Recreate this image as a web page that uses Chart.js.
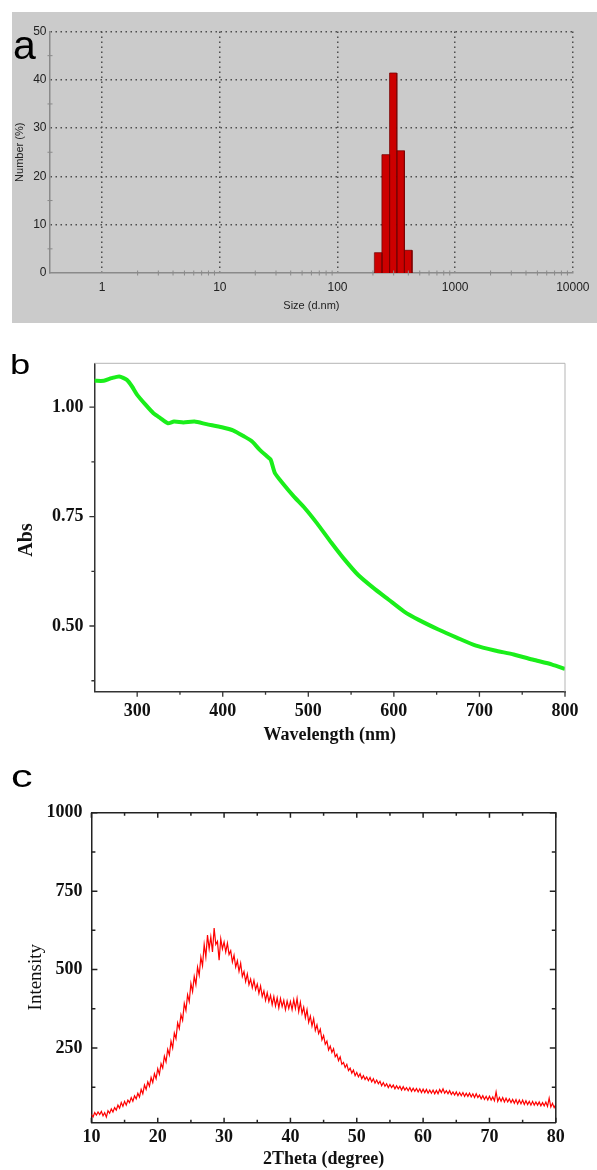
<!DOCTYPE html>
<html><head><meta charset="utf-8">
<script src="https://cdn.jsdelivr.net/npm/chart.js@4.4.1/dist/chart.umd.min.js"></script>
<style>
html,body{margin:0;padding:0;background:#fff;}
body{width:597px;height:1170px;position:relative;overflow:hidden;}
.panel{position:absolute;}
.panel canvas{display:block;}
.letter{position:absolute;font-family:"Liberation Sans",Arial,sans-serif;line-height:1;color:#000;transform-origin:left top;white-space:nowrap;}
</style></head><body>
<div class="panel" style="left:12px;top:12px;width:585px;height:311px;background:#cbcbcb;"><canvas id="ca" width="585" height="311" style="width:585px;height:311px"></canvas></div>
<div class="panel" style="left:0;top:340px;width:597px;height:410px;"><canvas id="cb" width="597" height="410" style="width:597px;height:410px"></canvas></div>
<div class="panel" style="left:0;top:790px;width:597px;height:380px;"><canvas id="cc" width="597" height="380" style="width:597px;height:380px"></canvas></div>
<div class="letter" style="left:13px;top:25px;font-size:41px;">a</div>
<div class="letter" style="left:10px;top:351px;font-size:28px;transform:scaleX(1.3)">b</div>
<div class="letter" style="left:11px;top:760px;font-size:32px;transform:scaleX(1.35)">c</div>
<script>
// ---------- Panel a : DLS size distribution ----------
const sizeBinEdges = [205.8, 238.5, 276.9, 319.0, 370.4, 430.0];
const numberPercent = [4.2, 24.5, 41.4, 25.3, 4.7];
const sizeTicks = [1, 10, 100, 1000, 10000];
const sizeMinorTicks = [2,3,4,5,6,7,8,9,20,30,40,50,60,70,80,90,200,300,400,500,600,700,800,900,2000,3000,4000,5000,6000,7000,8000,9000];
const numberTicks = [0, 10, 20, 30, 40, 50];
const numberMinorTicks = [5, 15, 25, 35, 45];

// ---------- Panel b : UV-Vis ----------
const wavelength = [250,261,270,279,288,294,300,310,319,327,336,343,354,367,381,399,412,425,434,443,452,456,461,470,483,496,510,527,541,558,576,594,612,629,652,674,696,718,740,763,785,800];
const absorbance = [1.060,1.060,1.066,1.070,1.062,1.047,1.028,1.005,0.986,0.975,0.963,0.967,0.965,0.967,0.961,0.954,0.947,0.933,0.922,0.903,0.887,0.880,0.849,0.826,0.796,0.769,0.735,0.690,0.655,0.617,0.587,0.560,0.533,0.514,0.492,0.473,0.455,0.444,0.435,0.423,0.412,0.402];
const wavelengthTicks = [300, 400, 500, 600, 700, 800];
const wavelengthMinorTicks = [350, 450, 550, 650, 750];
const absTicks = [0.50, 0.75, 1.00];
const absMinorTicks = [0.375, 0.625, 0.875];

// ---------- Panel c : XRD ----------
const twoThetaStart = 10, twoThetaStep = 0.25;
const intensity = [
38,30,44,36, 46,38,48,34, 44,30,50,42, 56,46,60,52, 68,58,76,64,
80,68,84,76, 92,80,98,88, 106,94,118,104, 132,118,142,128, 156,140,168,152,
184,166,200,186, 224,206,246,228, 272,250,298,280, 330,312,356,338, 392,370,420,398,
456,430,478,452, 508,482,540,512, 580,540,610,566, 604,556,632,580, 590,530,598,566,
588,556,584,548, 560,524,546,508, 528,494,520,478, 494,462,486,452, 470,442,466,436,
454,424,448,414, 432,402,426,398, 418,388,414,384, 410,378,408,382, 402,372,400,376,
398,372,404,376, 408,366,396,360, 380,346,372,332, 352,320,344,306, 324,296,310,276,
290,262,272,244, 256,236,248,222, 230,210,222,198, 204,188,198,178, 186,170,180,162,
172,158,168,152, 162,150,158,146, 156,142,152,138, 148,136,144,130, 140,128,136,124,
134,124,132,120, 130,120,128,116, 127,116,124,114, 124,112,122,112, 121,110,120,108,
119,108,118,106, 116,106,116,104, 115,104,118,108, 120,106,114,104, 114,102,110,100,
110,98,108,98, 108,96,106,96, 106,94,104,92, 104,92,100,88, 98,86,96,84,
96,84,94,82, 110,80,92,80, 92,78,90,78, 88,76,86,74, 86,72,84,72,
84,70,82,70, 80,68,80,68, 78,68,78,66, 76,66,78,64, 90,62,74,60,
70];
const twoTheta = intensity.map((_, i) => twoThetaStart + i * twoThetaStep);
const twoThetaTicks = [10, 20, 30, 40, 50, 60, 70, 80];
const twoThetaMinorTicks = [15, 25, 35, 45, 55, 65, 75];
const intensityTicks = [250, 500, 750, 1000];
const intensityMinorTicks = [125, 375, 625, 875];

// ---------- helper plugin: frame + tick marks ----------
const axisDecor = {
  id: 'axisDecor',
  afterDraw(chart, args, o) {
    const {ctx, chartArea: a, scales} = chart;
    ctx.save();
    if (o.frame) {
      ctx.strokeStyle = o.frame.color; ctx.lineWidth = o.frame.width;
      ctx.beginPath();
      ctx.moveTo(a.left, a.top); ctx.lineTo(a.right, a.top); ctx.lineTo(a.right, a.bottom);
      ctx.stroke();
    }
    for (const m of (o.marks || [])) {
      const sc = scales[m.scale];
      ctx.strokeStyle = m.color; ctx.lineWidth = m.width;
      ctx.beginPath();
      for (const v of m.values) {
        const p = sc.getPixelForValue(v);
        for (const e of m.edges) {
          const base = {bottom: a.bottom, top: a.top, left: a.left, right: a.right}[e];
          const inward = (e === 'bottom' || e === 'right') ? -1 : 1;
          let s0, s1;
          if (m.dir === 'in') { s0 = 0; s1 = inward * m.len; }
          else if (m.dir === 'out') { s0 = 0; s1 = -inward * m.len; }
          else { s0 = -m.len / 2; s1 = m.len / 2; }
          if (e === 'bottom' || e === 'top') { ctx.moveTo(p, base + s0); ctx.lineTo(p, base + s1); }
          else { ctx.moveTo(base + s0, p); ctx.lineTo(base + s1, p); }
        }
      }
      ctx.stroke();
    }
    ctx.restore();
  }
};
Chart.register(axisDecor);

const setTicks = arr => s => { s.ticks = arr.map(v => ({value: v})); };
const common = {responsive: false, animation: false, events: [], maintainAspectRatio: false};

// ---------- Chart a ----------
const sansA = {family: '"Liberation Sans", Arial, sans-serif', size: 12};
const sansTitleA = {family: '"Liberation Sans", Arial, sans-serif', size: 11};
const gridA = '#4d4d4d';
new Chart(document.getElementById('ca'), {
  type: 'scatter',
  data: {
    datasets: numberPercent.map((h, i) => ({
      data: [
        {x: sizeBinEdges[i], y: 0}, {x: sizeBinEdges[i], y: h},
        {x: sizeBinEdges[i + 1], y: h}, {x: sizeBinEdges[i + 1], y: 0}
      ],
      showLine: true, fill: 'origin', backgroundColor: '#cc0000',
      borderColor: '#7a0000', borderWidth: 0.8, pointRadius: 0, tension: 0
    }))
  },
  options: Object.assign({}, common, {
    layout: {padding: {left: 0, top: 19.5, right: 20, bottom: 0}},
    plugins: {
      legend: {display: false}, tooltip: {enabled: false},
      axisDecor: {marks: [
        {scale: 'x', values: sizeMinorTicks, edges: ['bottom'], dir: 'both', len: 5, color: '#8a8a8a', width: 1},
        {scale: 'y', values: numberMinorTicks, edges: ['left'], dir: 'both', len: 5, color: '#8a8a8a', width: 1}
      ]}
    },
    scales: {
      x: {
        type: 'logarithmic', min: 0.36, max: 10000,
        afterBuildTicks: setTicks(sizeTicks),
        afterFit: s => { s.height = 50; },
        ticks: {autoSkip: false, maxRotation: 0, padding: 7.5, color: '#222', font: sansA, callback: v => String(v)},
        grid: {drawTicks: false, color: gridA, lineWidth: 1.5},
        border: {display: true, color: '#8a8a8a', width: 1.5, dash: [1.5, 3.5]},
        title: {display: true, text: 'Size (d.nm)', color: '#222', font: sansTitleA, padding: {top: 0, bottom: 10.4}}
      },
      y: {
        min: 0, max: 50,
        afterBuildTicks: setTicks(numberTicks),
        afterFit: s => { s.width = 38; },
        ticks: {padding: 3.5, color: '#222', font: sansA},
        grid: {drawTicks: false, lineWidth: 1.5,
               color: c => (c.tick && c.tick.value === 0) ? 'rgba(0,0,0,0)' : gridA},
        border: {display: true, color: '#8a8a8a', width: 1.5, dash: [1.5, 3.5]},
        title: {display: true, text: 'Number (%)', color: '#222', font: sansTitleA, padding: {top: 1.4, bottom: 0}}
      }
    }
  })
});

// ---------- Chart b ----------
const serifB = {family: '"Liberation Serif", "Times New Roman", serif', size: 18, weight: 'bold'};
new Chart(document.getElementById('cb'), {
  type: 'scatter',
  data: {datasets: [{
    data: wavelength.map((x, i) => ({x, y: absorbance[i]})),
    showLine: true, borderColor: '#1aee1a', borderWidth: 4, pointRadius: 0, tension: 0.2
  }]},
  options: Object.assign({}, common, {
    layout: {padding: {left: 0, top: 23.3, right: 32, bottom: 0}},
    plugins: {
      legend: {display: false}, tooltip: {enabled: false},
      axisDecor: {
        frame: {color: '#b5b5b5', width: 1},
        marks: [
          {scale: 'x', values: wavelengthTicks, edges: ['bottom'], dir: 'out', len: 5, color: '#333', width: 1.3},
          {scale: 'x', values: wavelengthMinorTicks, edges: ['bottom'], dir: 'out', len: 3, color: '#333', width: 1.3},
          {scale: 'y', values: absTicks, edges: ['left'], dir: 'out', len: 5, color: '#333', width: 1.3},
          {scale: 'y', values: absMinorTicks, edges: ['left'], dir: 'out', len: 3, color: '#333', width: 1.3}
        ]
      }
    },
    scales: {
      x: {
        type: 'linear', min: 250, max: 800,
        afterBuildTicks: setTicks(wavelengthTicks),
        afterFit: s => { s.height = 58.3; },
        ticks: {autoSkip: false, maxRotation: 0, padding: 9, color: '#111', font: serifB},
        grid: {drawOnChartArea: false, drawTicks: false},
        border: {display: true, color: '#333', width: 1.5},
        title: {display: true, text: 'Wavelength (nm)', color: '#111', font: serifB, padding: {top: 0, bottom: 4}}
      },
      y: {
        min: 0.35, max: 1.10,
        afterBuildTicks: setTicks(absTicks),
        afterFit: s => { s.width = 94.4; },
        ticks: {padding: 11, color: '#111', font: serifB, callback: v => v.toFixed(2)},
        grid: {drawOnChartArea: false, drawTicks: false},
        border: {display: true, color: '#333', width: 1.5},
        title: {display: true, text: 'Abs     ', color: '#111',
                font: {family: '"Liberation Serif", "Times New Roman", serif', size: 20, weight: 'bold'},
                padding: {top: 14.6, bottom: 0}}
      }
    }
  })
});

// ---------- Chart c ----------
const serifC = {family: '"Liberation Serif", "Times New Roman", serif', size: 18, weight: 'bold'};
new Chart(document.getElementById('cc'), {
  type: 'scatter',
  data: {datasets: [{
    data: twoTheta.map((x, i) => ({x, y: intensity[i]})),
    showLine: true, borderColor: '#ff0000', borderWidth: 1.2, pointRadius: 0, tension: 0
  }]},
  options: Object.assign({}, common, {
    layout: {padding: {left: 0, top: 22.7, right: 41.2, bottom: 0}},
    plugins: {
      legend: {display: false}, tooltip: {enabled: false},
      axisDecor: {
        frame: {color: '#222', width: 1.5},
        marks: [
          {scale: 'x', values: twoThetaTicks, edges: ['bottom', 'top'], dir: 'in', len: 5, color: '#222', width: 1.5},
          {scale: 'x', values: twoThetaMinorTicks, edges: ['bottom', 'top'], dir: 'in', len: 3, color: '#222', width: 1.5},
          {scale: 'y', values: intensityTicks, edges: ['left', 'right'], dir: 'in', len: 6, color: '#222', width: 1.5},
          {scale: 'y', values: intensityMinorTicks, edges: ['left', 'right'], dir: 'in', len: 4, color: '#222', width: 1.5}
        ]
      }
    },
    scales: {
      x: {
        type: 'linear', min: 10, max: 80,
        afterBuildTicks: setTicks(twoThetaTicks),
        afterFit: s => { s.height = 47.3; },
        ticks: {autoSkip: false, maxRotation: 0, padding: 4.2, color: '#111', font: serifC, callback: v => String(v)},
        grid: {drawOnChartArea: false, drawTicks: false},
        border: {display: true, color: '#222', width: 1.5},
        title: {display: true, text: '2Theta (degree)', color: '#111', font: serifC, padding: {top: 0, bottom: 0}}
      },
      y: {
        min: 12, max: 1000,
        afterBuildTicks: setTicks(intensityTicks),
        afterFit: s => { s.width = 91.4; },
        ticks: {padding: 9, color: '#111', font: serifC, callback: v => String(v)},
        grid: {drawOnChartArea: false, drawTicks: false},
        border: {display: true, color: '#222', width: 1.5},
        title: {display: true, text: 'Intensity    ', color: '#111',
                font: {family: '"Liberation Serif", "Times New Roman", serif', size: 19, weight: 'normal'},
                padding: {top: 24.6, bottom: 0}}
      }
    }
  })
});
</script>
</body></html>
